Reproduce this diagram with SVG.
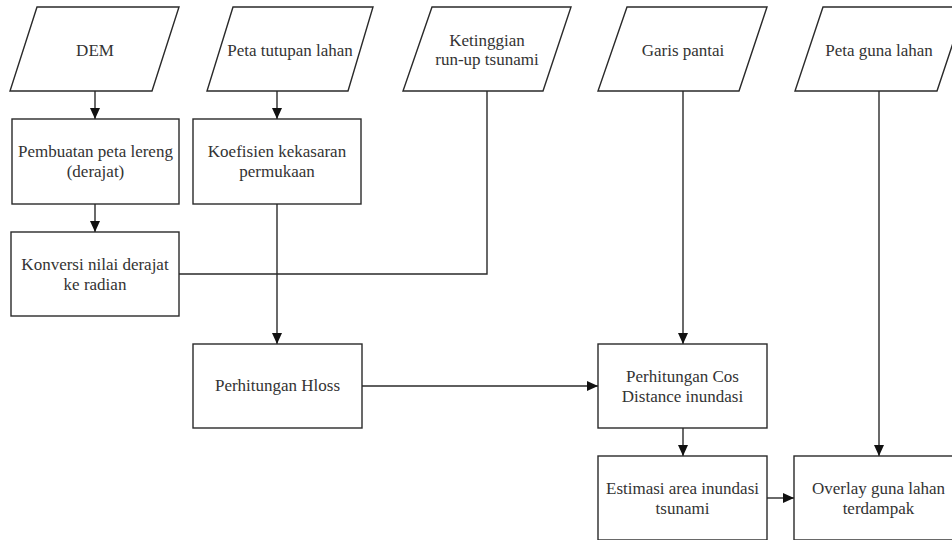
<svg xmlns="http://www.w3.org/2000/svg" width="952" height="540" viewBox="0 0 952 540">
<defs>
<style>
.s{fill:#fff;stroke:#2a2a2a;stroke-width:1.4}
.t{font-size:17px;fill:#333;text-anchor:middle}
.c{fill:none;stroke:#2a2a2a;stroke-width:1.4}
</style>
<marker id="ah" markerUnits="userSpaceOnUse" markerWidth="12" markerHeight="12" refX="11" refY="5" orient="auto" viewBox="0 0 12 10">
<path d="M0,0 L11,5 L0,10 Z" fill="#111"/>
</marker>
</defs>
<rect width="952" height="540" fill="#fff"/>
<g id="connectors">
<path class="c" d="M95,91 V119" marker-end="url(#ah)"/>
<path class="c" d="M277,91 V119" marker-end="url(#ah)"/>
<path class="c" d="M95,204 V232" marker-end="url(#ah)"/>
<path class="c" d="M179,274 H487 V91"/>
<path class="c" d="M277,204 V344" marker-end="url(#ah)"/>
<path class="c" d="M362,386 H598" marker-end="url(#ah)"/>
<path class="c" d="M683,91 V344" marker-end="url(#ah)"/>
<path class="c" d="M683,428 V456" marker-end="url(#ah)"/>
<path class="c" d="M767,498 H794" marker-end="url(#ah)"/>
<path class="c" d="M879,91 V456" marker-end="url(#ah)"/>
</g>
<g font-family="Liberation Serif, Times New Roman, serif">
<g id="dem">
<polygon class="s" points="37,7 179,7 152,91 10,91"/>
<text class="t" x="95" y="56">DEM</text>
</g>
<g id="peta-tutupan">
<polygon class="s" points="233,7 373,7 348,91 207,91"/>
<text class="t" x="290" y="56">Peta tutupan lahan</text>
</g>
<g id="ketinggian">
<polygon class="s" points="432,7 571,7 543,91 403,91"/>
<text class="t" x="487" y="46">Ketinggian</text>
<text class="t" x="487" y="65">run-up tsunami</text>
</g>
<g id="garis-pantai">
<polygon class="s" points="627,7 767,7 739,91 598,91"/>
<text class="t" x="683" y="56">Garis pantai</text>
</g>
<g id="peta-guna">
<polygon class="s" points="823,7 965,7 937,91 795,91"/>
<text class="t" x="879" y="56">Peta guna lahan</text>
</g>
<g id="lereng">
<rect class="s" x="12" y="119" width="167" height="85"/>
<text class="t" x="95.5" y="157">Pembuatan peta lereng</text>
<text class="t" x="95.5" y="177">(derajat)</text>
</g>
<g id="koefisien">
<rect class="s" x="193" y="119" width="168" height="85"/>
<text class="t" x="277" y="157">Koefisien kekasaran</text>
<text class="t" x="277" y="177">permukaan</text>
</g>
<g id="konversi">
<rect class="s" x="11" y="232" width="168" height="84"/>
<text class="t" x="95" y="270">Konversi nilai derajat</text>
<text class="t" x="95" y="290">ke radian</text>
</g>
<g id="hloss">
<rect class="s" x="193" y="344" width="169" height="84"/>
<text class="t" x="277.5" y="391">Perhitungan Hloss</text>
</g>
<g id="cos">
<rect class="s" x="598" y="344" width="169" height="84"/>
<text class="t" x="682.5" y="382">Perhitungan Cos</text>
<text class="t" x="682.5" y="402">Distance inundasi</text>
</g>
<g id="estimasi">
<rect class="s" x="598" y="456" width="169" height="84"/>
<text class="t" x="682.5" y="494">Estimasi area inundasi</text>
<text class="t" x="682.5" y="514">tsunami</text>
</g>
<g id="overlay">
<rect class="s" x="794" y="456" width="169" height="84"/>
<text class="t" x="878.5" y="494">Overlay guna lahan</text>
<text class="t" x="878.5" y="514">terdampak</text>
</g>
</g>
</svg>
